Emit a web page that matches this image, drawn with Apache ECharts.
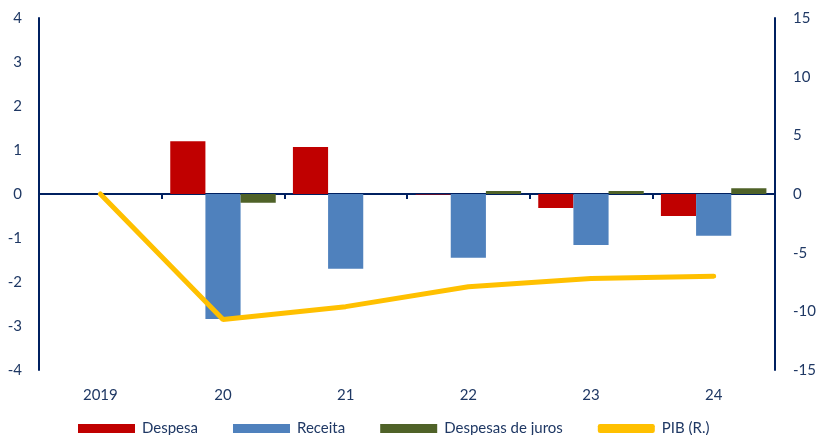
<!DOCTYPE html>
<html>
<head>
<meta charset="utf-8">
<script src="https://cdn.jsdelivr.net/npm/echarts@6/dist/echarts.min.js"></script>
<style>
  html, body { margin: 0; padding: 0; background: #fff; }
  #chart { width: 823px; height: 435px; }
</style>
</head>
<body>
<div id="chart"></div>
<script>
// categorias e séries
const years = ['2019', '20', '21', '22', '23', '24']
const despesa = [null, 1.2, 1.07, -0.01, -0.32, -0.5]
const receita = [null, -2.84, -1.7, -1.45, -1.16, -0.95]
const juros = [null, -0.2, 0.0, 0.07, 0.07, 0.13]
const pib = [0, -10.7, -9.6, -7.9, -7.2, -7.0]

const navy = '#002060'
const textColor = '#1F3864'
const font = 'Lato'

const chart = echarts.init(document.getElementById('chart'))

const option = {
  animation: false,
  textStyle: { fontFamily: font },
  grid: { left: 39, right: 48, top: 18, bottom: 65 },
  legend: {
    left: 73,
    top: 416,
    itemWidth: 57,
    itemHeight: 9,
    itemGap: 35,
    textStyle: { color: textColor, fontSize: 15, fontFamily: font, padding: [0, 0, 0, 2] },
    data: [
      { name: 'Despesa', icon: 'rect' },
      { name: 'Receita', icon: 'rect' },
      { name: 'Despesas de juros', icon: 'rect' },
      { name: 'PIB (R.)', icon: 'roundRect' }
    ]
  },
  xAxis: [
    {
      type: 'category',
      data: years,
      axisLine: { onZero: true, lineStyle: { color: navy, width: 2 } },
      axisTick: { show: true, length: 5, lineStyle: { color: navy, width: 2 } },
      axisLabel: { show: false }
    },
    {
      type: 'category',
      data: years,
      position: 'bottom',
      axisLine: { show: false, onZero: false },
      axisTick: { show: false },
      axisLabel: { color: textColor, fontSize: 15, margin: 18 }
    }
  ],
  yAxis: [
    {
      type: 'value',
      min: -4,
      max: 4,
      interval: 1,
      axisLine: { show: true, lineStyle: { color: navy, width: 2 } },
      axisTick: { show: false },
      splitLine: { show: false },
      axisLabel: { color: textColor, fontSize: 15, margin: 17 }
    },
    {
      type: 'value',
      min: -15,
      max: 15,
      interval: 5,
      position: 'right',
      axisLine: { show: true, lineStyle: { color: navy, width: 2 } },
      axisTick: { show: false },
      splitLine: { show: false },
      axisLabel: { color: textColor, fontSize: 15, margin: 18 }
    }
  ],
  series: [
    {
      name: 'Despesa',
      type: 'bar',
      data: despesa,
      barGap: '0%',
      barCategoryGap: '14%',
      itemStyle: { color: '#C00000' }
    },
    {
      name: 'Receita',
      type: 'bar',
      data: receita,
      itemStyle: { color: '#4F81BD' }
    },
    {
      name: 'Despesas de juros',
      type: 'bar',
      data: juros,
      itemStyle: { color: '#4F6228' }
    },
    {
      name: 'PIB (R.)',
      type: 'line',
      yAxisIndex: 1,
      data: pib,
      symbol: 'none',
      lineStyle: { color: '#FFC000', width: 5, cap: 'round' },
      itemStyle: { color: '#FFC000' },
      z: 5
    }
  ]
}

chart.setOption(option)
</script>
</body>
</html>
